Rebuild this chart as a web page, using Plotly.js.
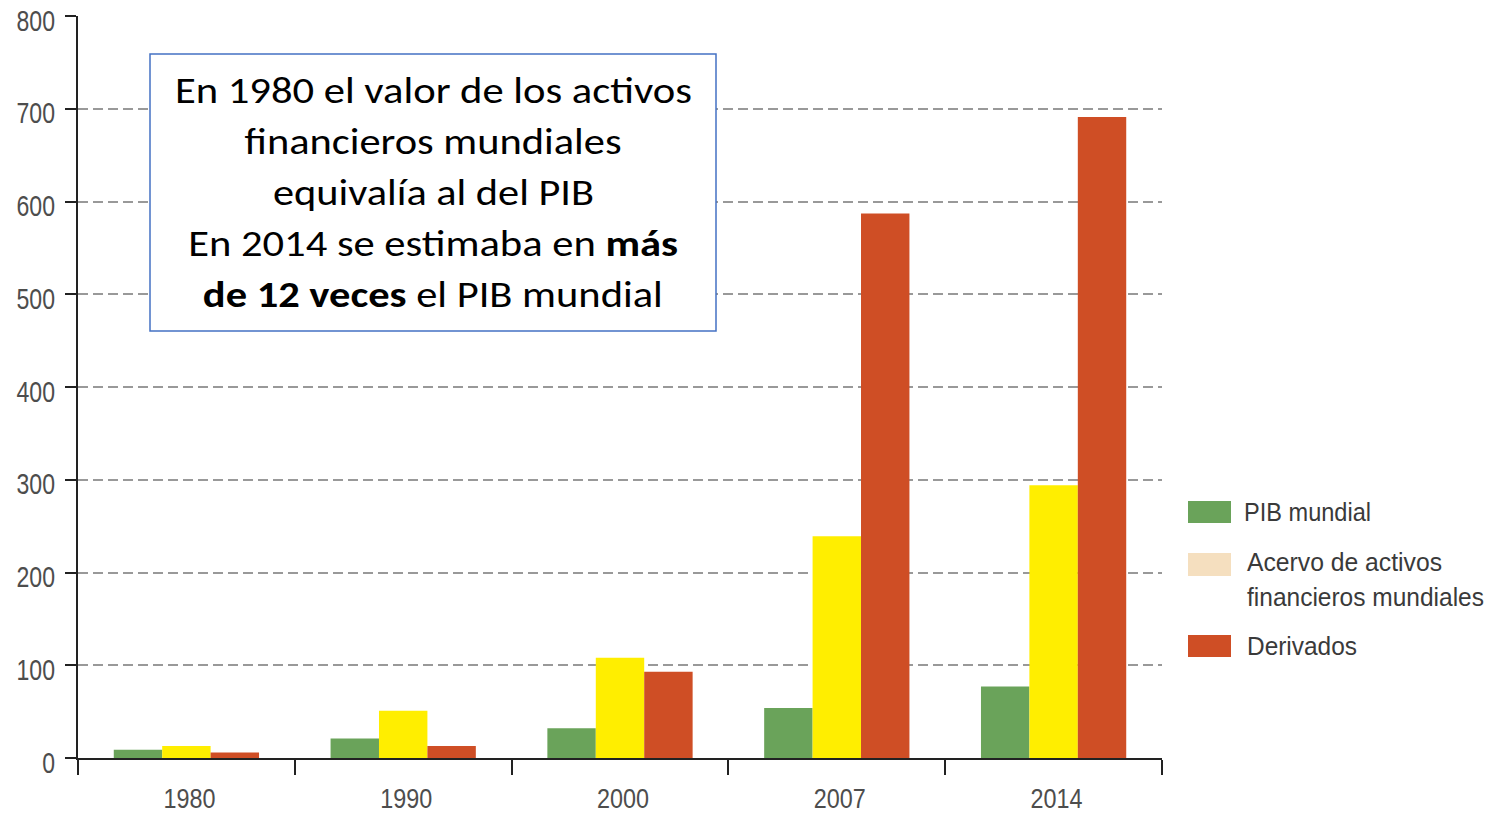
<!DOCTYPE html>
<html>
<head>
<meta charset="utf-8">
<script src="https://cdn.plot.ly/plotly-3.0.1.min.js"></script>
<style>html,body{margin:0;padding:0;background:#fff;}#chart{width:1493px;height:819px;}</style>
</head>
<body>
<div id="chart"></div>
<script>
const years = ['1980', '1990', '2000', '2007', '2014'];
const pibMundial = [9, 21, 32, 54, 77];
const activosFinancieros = [13, 51, 108, 239, 294];
const derivados = [6, 13, 93, 587, 691];
const legendLabels = ['PIB mundial', 'Acervo de activos', 'financieros mundiales', 'Derivados'];
const yTicks = [0, 100, 200, 300, 400, 500, 600, 700, 800];
const boxLines = [
  'En 1980 el valor de los activos',
  'financieros mundiales',
  'equivalía al del PIB',
  'En 2014 se estimaba en <b>más</b>',
  '<b>de 12 veces</b> el PIB mundial'
];

const narrow = '"Liberation Sans", Arial, sans-serif';

const traces = [
  {type: 'bar', x: years, y: pibMundial, name: 'PIB mundial', marker: {color: '#6aa35a', line: {width: 0}}},
  {type: 'bar', x: years, y: activosFinancieros, name: 'Acervo de activos financieros mundiales', marker: {color: '#ffee00', line: {width: 0}}},
  {type: 'bar', x: years, y: derivados, name: 'Derivados', marker: {color: '#cf4e25', line: {width: 0}}}
];

const L = 78, T = 16, B = 61, W = 1493, H = 819;
const plotW = 1162 - L, plotH = H - T - B;
const px = v => (v - L) / plotW;
const py = v => (H - B - v) / plotH;

const legendSwatches = [
  {c: '#6aa35a', y0: 501, y1: 523},
  {c: '#f5dfbf', y0: 553, y1: 576},
  {c: '#cf4e25', y0: 635, y1: 657}
];
const legendTextPos = [[1242, 512], [1245, 562], [1245, 597], [1245, 646]];
const legendTextWidth = [127, 195, 237, 110];

const shapes = legendSwatches.map(s => ({
  type: 'rect', xref: 'paper', yref: 'paper',
  x0: px(1188), x1: px(1231), y0: py(s.y1), y1: py(s.y0),
  fillcolor: s.c, line: {width: 0}
}));
shapes.push({
  type: 'rect', xref: 'paper', yref: 'paper',
  x0: px(150), x1: px(716), y0: py(331), y1: py(54),
  fillcolor: '#ffffff', line: {color: '#4472c4', width: 1.5}, layer: 'above'
});

const annotations = legendLabels.map((n, i) => ({
  xref: 'paper', yref: 'paper', x: px(legendTextPos[i][0]), y: py(legendTextPos[i][1]),
  xanchor: 'left', yanchor: 'middle', align: 'left', showarrow: false,
  text: n, font: {family: narrow, size: 25, color: '#3a3a3a'}
}));
const boxLineY = [91, 142, 193, 244, 295];
const boxLineWidth = [517, 377, 321, 490, 460];
boxLines.forEach((t, i) => annotations.push({
  xref: 'paper', yref: 'paper', x: px(433), y: py(boxLineY[i]),
  xanchor: 'center', yanchor: 'middle', align: 'center', showarrow: false,
  text: t, font: {family: 'Carlito, Lato, "Open Sans", sans-serif', size: 36, color: '#000'}
}));

const layout = {
  width: W, height: H,
  margin: {l: L, r: W - 1162, t: T, b: B, pad: 0},
  paper_bgcolor: '#fff', plot_bgcolor: '#fff',
  barmode: 'group', bargap: 0.33, bargroupgap: 0,
  showlegend: false,
  xaxis: {
    type: 'category', tickson: 'boundaries',
    ticks: 'outside', ticklen: 15, tickwidth: 2, tickcolor: '#222',
    showline: true, linecolor: '#222', linewidth: 2,
    showgrid: false, zeroline: false, ticklabelstandoff: 16,
    tickfont: {family: narrow, size: 27, color: '#4d4d4d'}, fixedrange: true
  },
  yaxis: {
    range: [0, 800], tickvals: yTicks,
    ticks: 'outside', ticklen: 11, tickwidth: 2, tickcolor: '#222',
    showline: true, linecolor: '#222', linewidth: 2,
    showgrid: true, gridcolor: '#999999', gridwidth: 2, griddash: '10px,5px',
    zeroline: false, ticklabelstandoff: 4, ticklabeloverflow: 'allow',
    tickfont: {family: narrow, size: 30, color: '#4d4d4d'}, fixedrange: true
  },
  shapes: shapes,
  annotations: annotations
};

function fitText(el, width) {
  if (width > 0) {
    el.setAttribute('textLength', width.toFixed(1));
    el.setAttribute('lengthAdjust', 'spacingAndGlyphs');
  }
}
function shift(el, dx, dy) {
  const t = el.getAttribute('transform') || '';
  el.setAttribute('transform', t + ' translate(' + dx + ',' + dy + ')');
}

Plotly.newPlot('chart', traces, layout, {displayModeBar: false, staticPlot: true}).then(gd => {
  gd.querySelectorAll('.xtick text').forEach(t => { fitText(t, 52); shift(t, 3, 0); });
  gd.querySelectorAll('.ytick text').forEach(t => { fitText(t, t.getComputedTextLength() * 0.77); shift(t, 0, 4); });
  const ann = gd.querySelectorAll('.annotation-text');
  for (let i = 0; i < legendLabels.length; i++) fitText(ann[i], legendTextWidth[i]);
  for (let i = 0; i < boxLines.length; i++) fitText(ann[legendLabels.length + i], boxLineWidth[i]);
});
</script>
</body>
</html>
